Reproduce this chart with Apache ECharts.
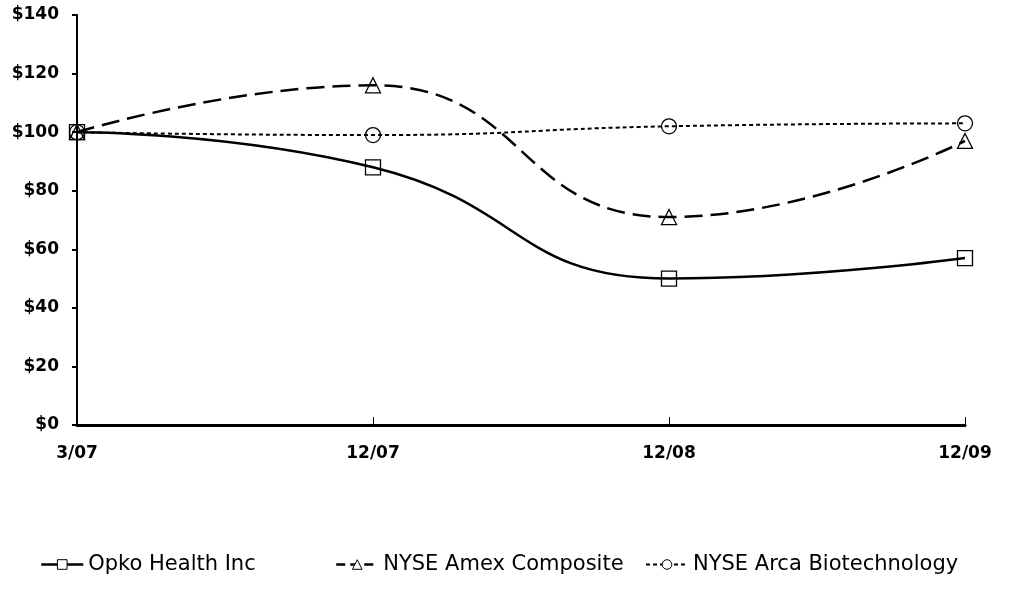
<!DOCTYPE html>
<html><head><meta charset="utf-8">
<script src="https://cdn.jsdelivr.net/npm/echarts@6/dist/echarts.min.js"></script>
<style>html,body{margin:0;padding:0;background:#fff}#c{width:1021px;height:593px}</style>
</head><body><div id="c"></div>
<script>
const categories = ['3/07', '12/07', '12/08', '12/09'];
const opko = [100, 88, 50, 57];
const amex = [100, 116, 71, 97];
const arca = [100, 99, 102, 103];
const yTicks = { min: 0, max: 140, interval: 20 };

const chart = echarts.init(document.getElementById('c'), null, { renderer: 'canvas' });
const dashAmex = [18, 8];
const dashArca = [4, 3];
const mk = (name, data, symbol, lineType, width) => ({
  name, type: 'line', data, smooth: 0.5, symbol, symbolSize: 15,
  showAllSymbol: true,
  lineStyle: { color: '#000', width, type: lineType },
  itemStyle: { color: 'rgba(255,255,255,0)', borderColor: '#000', borderWidth: 1.3 },
  emphasis: { disabled: true }, z: 3
});
const legendItem = { color: '#fff', borderColor: '#000', borderWidth: 1 };
const legendBase = {
  top: 549, itemWidth: 42, itemHeight: 12, orient: 'horizontal', itemGap: 6,
  textStyle: { fontFamily: 'DejaVu Sans', fontSize: 21, color: '#000' }
};
chart.setOption({
  animation: false,
  backgroundColor: '#fff',
  grid: { left: 77, right: 56, top: 15, bottom: 168, containLabel: false },
  xAxis: {
    type: 'category', data: categories, boundaryGap: false,
    axisLine: { lineStyle: { color: '#000', width: 3 } },
    axisTick: { show: true, inside: true, length: 8, lineStyle: { color: '#000', width: 1 } },
    axisLabel: { margin: 20, fontFamily: 'DejaVu Sans', fontWeight: 'bold', fontSize: 17, color: '#000' },
    splitLine: { show: false }
  },
  yAxis: {
    type: 'value', min: yTicks.min, max: yTicks.max, interval: yTicks.interval,
    axisLine: { show: true, lineStyle: { color: '#000', width: 2 } },
    axisTick: { show: true, length: 5, lineStyle: { color: '#000', width: 2 } },
    axisLabel: { margin: 18, fontFamily: 'DejaVu Sans', fontWeight: 'bold', fontSize: 17, color: '#000', formatter: '${value}' },
    splitLine: { show: false }
  },
  legend: [
    Object.assign({}, legendBase, { left: 35, data: [{ name: 'Opko Health Inc', itemStyle: legendItem, lineStyle: { type: 'solid', width: 2.5 } }] }),
    Object.assign({}, legendBase, { left: 330, data: [{ name: 'NYSE Amex Composite', itemStyle: legendItem, lineStyle: { type: [9, 5], width: 2.5 } }] }),
    Object.assign({}, legendBase, { left: 640, data: [{ name: 'NYSE Arca Biotechnology', itemStyle: legendItem, lineStyle: { type: [4, 3], width: 2 } }] })
  ],
  series: [
    mk('Opko Health Inc', opko, 'rect', 'solid', 2.5),
    mk('NYSE Amex Composite', amex, 'triangle', dashAmex, 2.5),
    mk('NYSE Arca Biotechnology', arca, 'circle', dashArca, 2)
  ]
});
</script></body></html>
